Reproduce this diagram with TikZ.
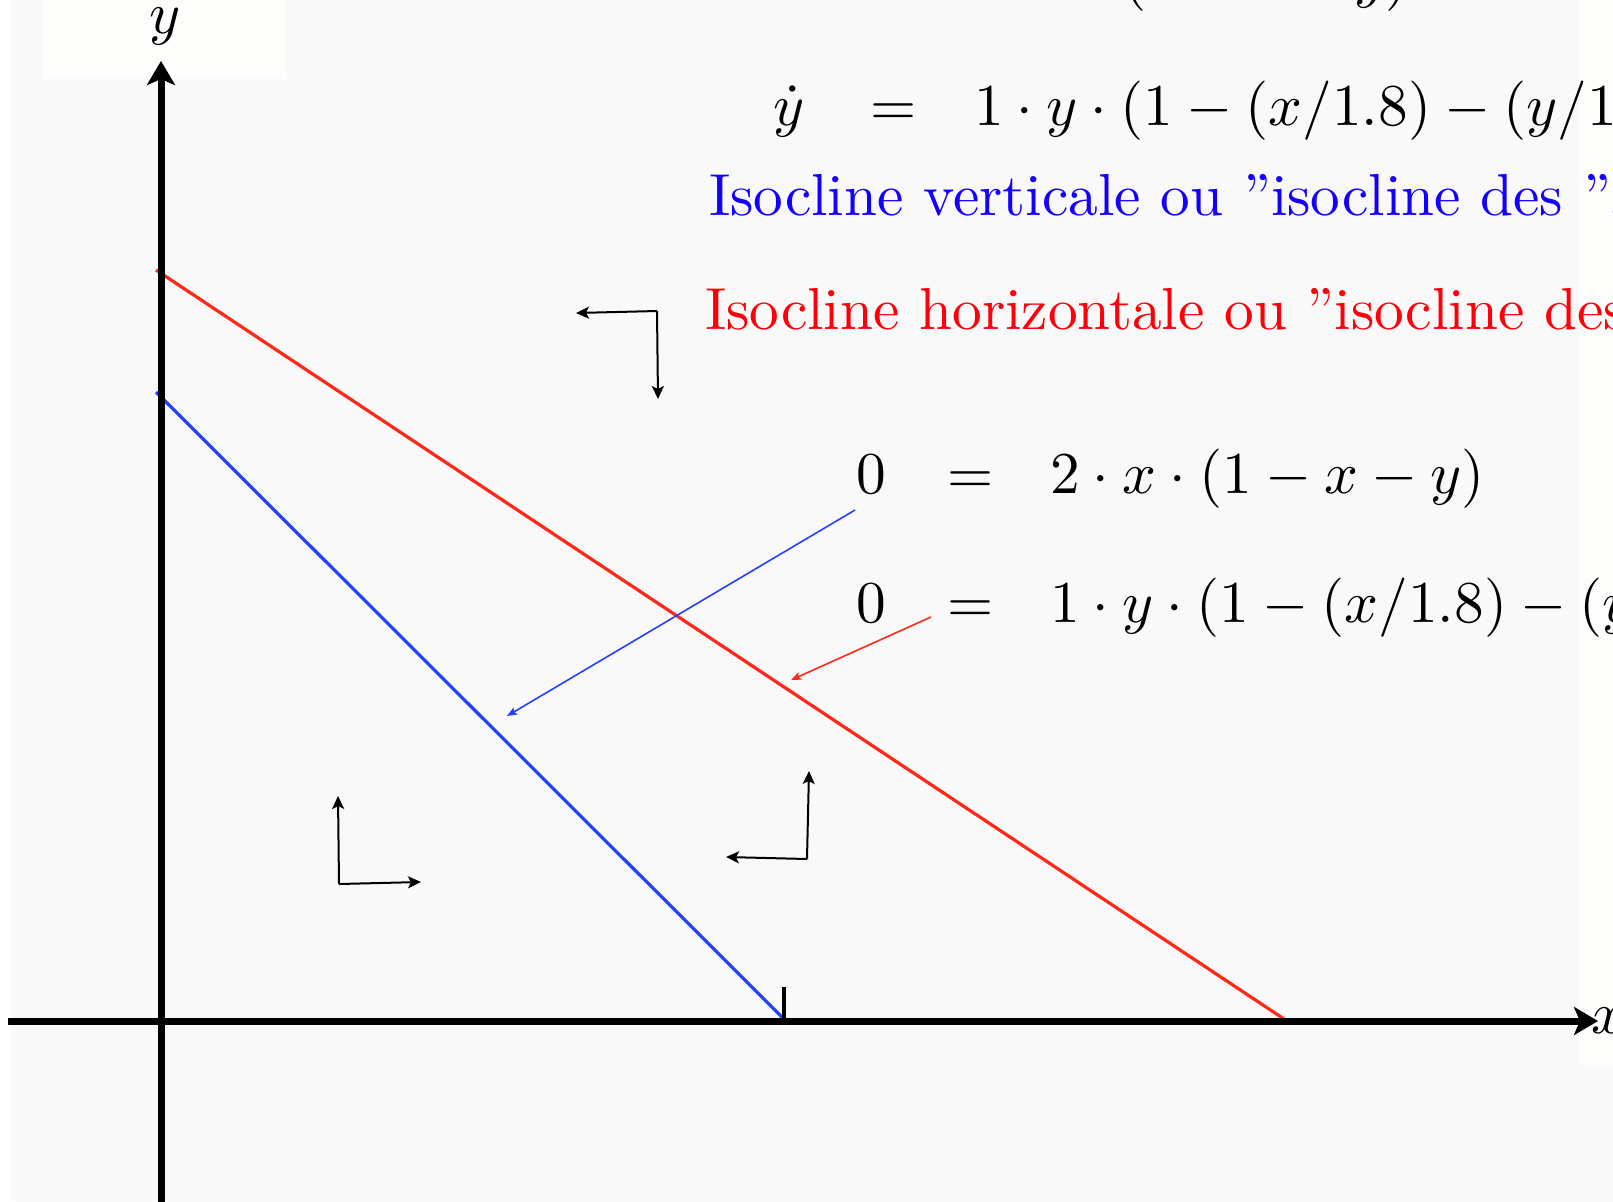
\documentclass[tikz,border=0pt]{standalone}
\usetikzlibrary{arrows.meta}
\definecolor{bggray}{RGB}{249,249,249}
\definecolor{bgwhite}{RGB}{253,253,251}
\definecolor{isoblue}{RGB}{35,65,255}
\definecolor{isored}{RGB}{255,40,25}
\definecolor{txtblue}{RGB}{20,0,255}
\definecolor{txtred}{RGB}{255,0,10}
\newcommand{\bigtxt}[1]{\scalebox{2.965}{#1}}
\begin{document}
\begin{tikzpicture}[x=0.5pt,y=-0.5pt,
  txt/.style={inner sep=0pt, outer sep=0pt},
  axisline/.style={line width=3.5pt, -{Stealth[length=12pt,width=14pt,inset=3pt]}},
  flow/.style={line width=1pt, -{Stealth[length=6.5pt,width=6pt,inset=1.5pt]}},
  pointer/.style={line width=0.8pt, -{Stealth[length=5pt,width=4pt,inset=1pt]}},
  isoline/.style={line width=1.6pt}]
\useasboundingbox (0,0) rectangle (1613,1201);
\clip (0,0) rectangle (1613,1201);
% backgrounds
\fill[white] (0,0) rectangle (1613,1201);
\fill[bggray] (11,0) rectangle (1613,1201);
\fill[bgwhite] (42,0) rectangle (287,79);
\fill[bgwhite] (1579,0) rectangle (1613,1065);

% isoclines
\coordinate (rA) at (156,270);
\coordinate (rB) at (1284,1019);
\coordinate (bA) at (156,392);
\coordinate (bB) at (784,1019);
\draw[isoline, isored] (rA) -- (rB);
\draw[isoline, isoblue] (bA) -- (bB);

% axes
\coordinate (xs) at (8,1021);
\coordinate (xe) at (1598,1021);
\coordinate (ys) at (161,1215);
\coordinate (ye) at (161,61);
\draw[axisline] (xs) -- (xe);
\draw[axisline] (ys) -- (ye);
\coordinate (tkA) at (784,987);
\coordinate (tkB) at (784,1019);
\draw[line width=2pt] (tkA) -- (tkB);
\node[txt, anchor=base west] (xlab) at (1591,1033) {\bigtxt{$x$}};
\node[txt, anchor=base] (ylab) at (165,33) {\bigtxt{$y$}};

% flow arrows
\coordinate (c1) at (657,311);
\coordinate (c1l) at (576,313);
\coordinate (c1d) at (658,399);
\draw[flow] (c1) -- (c1l);
\draw[flow] (c1) -- (c1d);
\coordinate (c2) at (339,884);
\coordinate (c2u) at (338,796);
\coordinate (c2r) at (421,882);
\draw[flow] (c2) -- (c2u);
\draw[flow] (c2) -- (c2r);
\coordinate (c3) at (807,859);
\coordinate (c3l) at (726,857);
\coordinate (c3u) at (809,771);
\draw[flow] (c3) -- (c3l);
\draw[flow] (c3) -- (c3u);

% top equations
\node[txt, anchor=base east] (xdl) at (805,-4) {\bigtxt{$\dot{x}$}};
\node[txt, anchor=base west] (xde) at (870,-4) {\bigtxt{$=$}};
\node[txt, anchor=base west] (xdr) at (974,-4) {\bigtxt{$2\cdot x\cdot(1-x-y)$}};
\node[txt, anchor=base east] (ydl) at (805,125) {\bigtxt{$\dot{y}$}};
\node[txt, anchor=base west] (yde) at (870,125) {\bigtxt{$=$}};
\node[txt, anchor=base west] (ydr) at (974,125) {\bigtxt{$1\cdot y\cdot(1-(x/1.8)-(y/1.2))$}};

% isocline labels
\node[txt, anchor=base west, text=txtblue] (blab) at (709,215)
  {\bigtxt{Isocline verticale ou ”isocline des ”$\dot{x}$ nuls”}};
\node[txt, anchor=base west, text=txtred] (rlab) at (705,329)
  {\bigtxt{Isocline horizontale ou ”isocline des ”$\dot{y}$ nuls”}};

% isocline equations
\node[txt, anchor=base east] (e1l) at (886,493) {\bigtxt{$0$}};
\node[txt, anchor=base west] (e1e) at (947,493) {\bigtxt{$=$}};
\node[txt, anchor=base west] (e1r) at (1050,493) {\bigtxt{$2\cdot x\cdot(1-x-y)$}};
\node[txt, anchor=base east] (e2l) at (886,622) {\bigtxt{$0$}};
\node[txt, anchor=base west] (e2e) at (947,622) {\bigtxt{$=$}};
\node[txt, anchor=base west] (e2r) at (1050,622) {\bigtxt{$1\cdot y\cdot(1-(x/1.8)-(y/1.2))$}};

% pointers
\coordinate (pb1) at (855,510);
\coordinate (pb2) at (507,716);
\coordinate (pr1) at (931,617);
\coordinate (pr2) at (791,680);
\draw[pointer, isoblue] (pb1) -- (pb2);
\draw[pointer, isored] (pr1) -- (pr2);
\end{tikzpicture}
\end{document}
